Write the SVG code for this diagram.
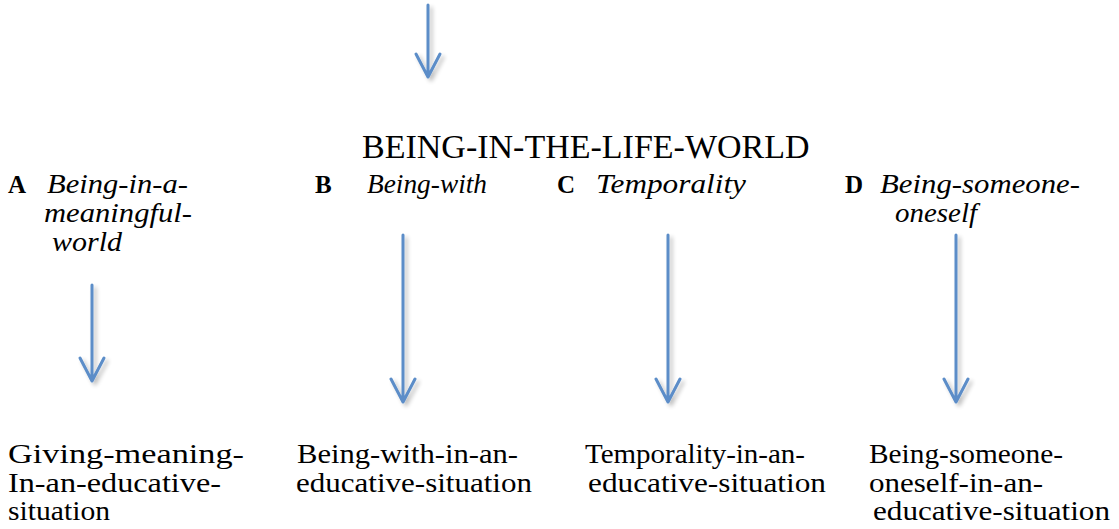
<svg xmlns="http://www.w3.org/2000/svg" width="1119" height="529" viewBox="0 0 1119 529">
<defs>
<filter id="shadow" x="-50%" y="-10%" width="200%" height="130%">
<feGaussianBlur in="SourceAlpha" stdDeviation="2"/>
<feOffset dx="3" dy="3" result="b"/>
<feComponentTransfer><feFuncA type="linear" slope="0.25"/></feComponentTransfer>
<feMerge><feMergeNode/><feMergeNode in="SourceGraphic"/></feMerge>
</filter>
</defs>
<style>
.arr{fill:none;stroke:#5B8DC8;stroke-width:3;stroke-linecap:round;stroke-linejoin:round}
.let{font-size:25px;font-weight:bold}
.it{font-size:27px;font-style:italic}
.out{font-size:28px}
</style>
<rect width="1119" height="529" fill="#fff"/>
<g id="connectors" filter="url(#shadow)">
<path class="arr" d="M428 5 V77 M416 54 L428 77 L440 54"/>
<path class="arr" d="M92 285 V381 M80 358 L92 381 L104 358"/>
<path class="arr" d="M403 235 V402 M391 379 L403 402 L415 379"/>
<path class="arr" d="M668 235 V402 M656 379 L668 402 L680 379"/>
<path class="arr" d="M956 235 V402 M944 379 L956 402 L968 379"/>
</g>
<g font-family="Liberation Serif, serif" fill="#000">
<g id="title"><text font-size="34" x="362" y="158">BEING-IN-THE-LIFE-WORLD</text></g>
<g id="nodeA">
<text class="let" x="8" y="193">A</text>
<text class="it" x="47" y="193" textLength="141" lengthAdjust="spacingAndGlyphs">Being-in-a-</text>
<text class="it" x="44" y="222" textLength="148" lengthAdjust="spacingAndGlyphs">meaningful-</text>
<text class="it" x="52" y="251" textLength="70" lengthAdjust="spacingAndGlyphs">world</text>
</g>
<g id="nodeB">
<text class="let" x="315" y="193">B</text>
<text class="it" x="367" y="193" textLength="120" lengthAdjust="spacingAndGlyphs">Being-with</text>
</g>
<g id="nodeC">
<text class="let" x="557" y="193">C</text>
<text class="it" x="596" y="193" textLength="150" lengthAdjust="spacingAndGlyphs">Temporality</text>
</g>
<g id="nodeD">
<text class="let" x="845" y="193">D</text>
<text class="it" x="880" y="193" textLength="200" lengthAdjust="spacingAndGlyphs">Being-someone-</text>
<text class="it" x="895" y="222" textLength="82" lengthAdjust="spacingAndGlyphs">oneself</text>
</g>
<g id="outA" class="out">
<text x="8" y="463" textLength="236" lengthAdjust="spacingAndGlyphs">Giving-meaning-</text>
<text x="8" y="492" textLength="213" lengthAdjust="spacingAndGlyphs">In-an-educative-</text>
<text x="8" y="520" textLength="102" lengthAdjust="spacingAndGlyphs">situation</text>
</g>
<g id="outB" class="out">
<text x="297" y="463" textLength="221" lengthAdjust="spacingAndGlyphs">Being-with-in-an-</text>
<text x="296" y="492" textLength="236" lengthAdjust="spacingAndGlyphs">educative-situation</text>
</g>
<g id="outC" class="out">
<text x="585" y="463" textLength="220" lengthAdjust="spacingAndGlyphs">Temporality-in-an-</text>
<text x="588" y="492" textLength="238" lengthAdjust="spacingAndGlyphs">educative-situation</text>
</g>
<g id="outD" class="out">
<text x="869" y="463" textLength="194" lengthAdjust="spacingAndGlyphs">Being-someone-</text>
<text x="869" y="492" textLength="174" lengthAdjust="spacingAndGlyphs">oneself-in-an-</text>
<text x="873" y="520" textLength="237" lengthAdjust="spacingAndGlyphs">educative-situation</text>
</g>
</g>
</svg>
